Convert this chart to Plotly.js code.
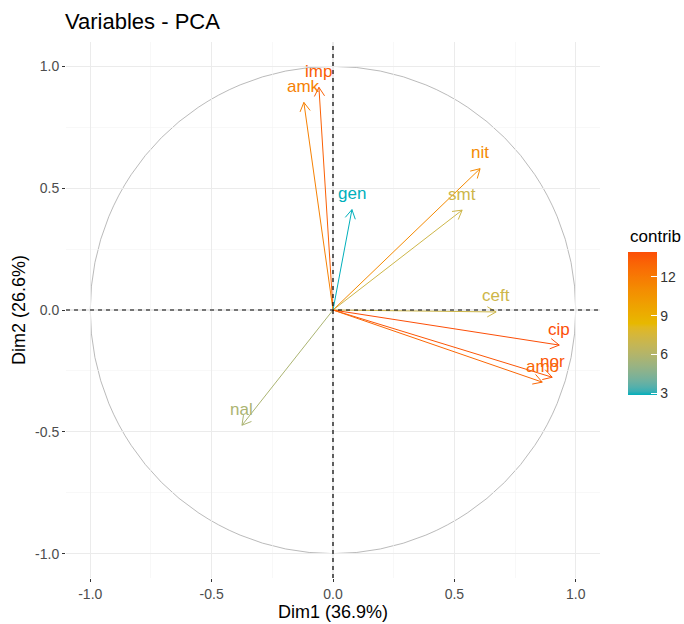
<!DOCTYPE html>
<html>
<head>
<meta charset="utf-8">
<script src="https://cdn.plot.ly/plotly-3.0.1.min.js"></script>
<style>html,body{margin:0;padding:0;background:#fff;}#chart{width:684px;height:624px;}</style>
</head>
<body>
<div id="chart"></div>
<script>
// ---- data ----
const variables = ['imp', 'amk', 'gen', 'nit', 'smt', 'ceft', 'cip', 'nor', 'amo', 'nal'];
const dim1 = [-0.058, -0.120, 0.078, 0.606, 0.532, 0.672, 0.932, 0.903, 0.862, -0.375];
const dim2 = [0.914, 0.852, 0.412, 0.580, 0.410, -0.008, -0.144, -0.276, -0.296, -0.473];
const contrib = [13.2, 11.6, 2.85, 11.1, 7.1, 7.1, 13.9, 13.6, 12.9, 5.7];
const gradientCols = ['#00AFBB', '#E7B800', '#FC4E07'];
const tickVals = [-1.0, -0.5, 0.0, 0.5, 1.0];
const tickLabels = ['-1.0', '-0.5', '0.0', '0.5', '1.0'];
const legendTicks = [3, 6, 9, 12];

// ---- Lab colour interpolation (like ggplot's gradientn) ----
function hexToRgb(h){return [1,3,5].map(i=>parseInt(h.substr(i,2),16));}
function lin(c){c/=255;return c<=0.04045?c/12.92:Math.pow((c+0.055)/1.055,2.4);}
function delin(c){const v=c<=0.0031308?12.92*c:1.055*Math.pow(c,1/2.4)-0.055;return Math.max(0,Math.min(255,Math.round(v*255)));}
const Xn=0.95047,Yn=1,Zn=1.08883;
function f(t){return t>0.008856?Math.cbrt(t):7.787*t+16/116;}
function finv(t){return t>0.206893?t*t*t:(t-16/116)/7.787;}
function rgbToLab(rgb){
  const r=lin(rgb[0]),g=lin(rgb[1]),b=lin(rgb[2]);
  const X=0.4124564*r+0.3575761*g+0.1804375*b;
  const Y=0.2126729*r+0.7151522*g+0.0721750*b;
  const Z=0.0193339*r+0.1191920*g+0.9503041*b;
  const fx=f(X/Xn),fy=f(Y/Yn),fz=f(Z/Zn);
  return [116*fy-16,500*(fx-fy),200*(fy-fz)];
}
function labToRgb(lab){
  const fy=(lab[0]+16)/116,fx=fy+lab[1]/500,fz=fy-lab[2]/200;
  const X=Xn*finv(fx),Y=Yn*finv(fy),Z=Zn*finv(fz);
  const r= 3.2404542*X-1.5371385*Y-0.4985314*Z;
  const g=-0.9692660*X+1.8760108*Y+0.0415560*Z;
  const b= 0.0556434*X-0.2040259*Y+1.0572252*Z;
  return [delin(r),delin(g),delin(b)];
}
const labs=gradientCols.map(c=>rgbToLab(hexToRgb(c)));
function colorAt(t){
  t=Math.max(0,Math.min(1,t));
  const n=labs.length-1,s=Math.min(n-1,Math.floor(t*n)),u=t*n-s;
  const a=labs[s],b=labs[s+1];
  const rgb=labToRgb([a[0]+(b[0]-a[0])*u,a[1]+(b[1]-a[1])*u,a[2]+(b[2]-a[2])*u]);
  return 'rgb('+rgb.join(',')+')';
}
const cmin=Math.min(...contrib),cmax=Math.max(...contrib);
const colorscale=[];
for(let i=0;i<=40;i++){colorscale.push([i/40,colorAt(i/40)]);}
const colOf=c=>colorAt((c-cmin)/(cmax-cmin));

// ---- traces ----
const headLen=0.042, headAng=30*Math.PI/180;
const traces=[];
variables.forEach((v,i)=>{
  const x=dim1[i],y=dim2[i],ang=Math.atan2(y,x);
  const lx=x-headLen*Math.cos(ang-headAng),ly=y-headLen*Math.sin(ang-headAng);
  const rx=x-headLen*Math.cos(ang+headAng),ry=y-headLen*Math.sin(ang+headAng);
  traces.push({
    type:'scatter',mode:'lines',
    x:[0,x,null,lx,x,rx],y:[0,y,null,ly,y,ry],
    line:{color:colOf(contrib[i]),width:1},
    hoverinfo:'skip',showlegend:false
  });
});
traces.push({
  type:'scatter',mode:'markers',x:dim1,y:dim2,
  marker:{color:contrib,colorscale:colorscale,cmin:cmin,cmax:cmax,opacity:0,size:1,
    showscale:true,
    colorbar:{
      thickness:29,thicknessmode:'pixels',len:143,lenmode:'pixels',
      xref:'container',x:628/684,xanchor:'left',xpad:0,
      yref:'container',y:1-377/624,yanchor:'middle',ypad:0,
      outlinewidth:0,
      tickmode:'array',tickvals:legendTicks,ticktext:legendTicks.map(String),
      ticks:'inside',ticklen:6,tickcolor:'#ffffff',tickwidth:1,
      tickfont:{size:14,color:'#333333',family:'Liberation Sans, Arial, sans-serif'},
      title:{text:''}
    }},
  hoverinfo:'skip',showlegend:false
});

const annotations=variables.map((v,i)=>({
  x:dim1[i],y:dim2[i],xref:'x',yref:'y',text:v,showarrow:false,
  yshift:16,xanchor:'center',yanchor:'middle',
  font:{size:17,color:colOf(contrib[i]),family:'Liberation Sans, Arial, sans-serif'}
}));
annotations.push({
  xref:'paper',yref:'paper',x:(628-66)/534,y:(578-236)/536,xanchor:'left',yanchor:'middle',
  text:'contrib',showarrow:false,
  font:{size:17,color:'#000000',family:'Liberation Sans, Arial, sans-serif'}
});

const axisCommon={
  range:[-1.1,1.1],tickmode:'array',tickvals:tickVals,ticktext:tickLabels,
  ticks:'outside',ticklen:3,tickwidth:1,tickcolor:'#333333',
  tickfont:{size:14,color:'#4D4D4D',family:'Liberation Sans, Arial, sans-serif'},
  showgrid:true,gridcolor:'#EBEBEB',gridwidth:1.1,
  minor:{tickmode:'array',tickvals:[-0.75,-0.25,0.25,0.75],showgrid:true,gridcolor:'#F3F3F3',gridwidth:0.6,ticks:''},
  zeroline:false,showline:false,fixedrange:true,automargin:false
};

const layout={
  width:684,height:624,
  margin:{l:66,r:84,t:42,b:46},
  paper_bgcolor:'#ffffff',plot_bgcolor:'#ffffff',
  font:{family:'Liberation Sans, Arial, sans-serif',color:'#000000'},
  title:{text:'Variables - PCA',x:65/684,xanchor:'left',xref:'container',y:1-21/624,yanchor:'middle',yref:'container',
    font:{size:22,color:'#000000'}},
  xaxis:Object.assign({},axisCommon,{title:{text:'Dim1 (36.9%)',standoff:4,font:{size:18,color:'#000000'}}}),
  yaxis:Object.assign({},axisCommon,{title:{text:'Dim2 (26.6%)',standoff:4,font:{size:18,color:'#000000'}}}),
  shapes:[
    {type:'circle',xref:'x',yref:'y',x0:-1,x1:1,y0:-1,y1:1,line:{color:'#A8A8A8',width:0.8},layer:'below'},
    {type:'line',xref:'paper',yref:'y',x0:0,x1:1,y0:0,y1:0,line:{color:'#000000',width:1.2,dash:'4px,4px'},layer:'above'},
    {type:'line',xref:'x',yref:'paper',x0:0,x1:0,y0:0,y1:1,line:{color:'#000000',width:1.2,dash:'4px,4px'},layer:'above'}
  ],
  annotations:annotations,
  hovermode:false,showlegend:false
};

Plotly.newPlot('chart',traces,layout,{displayModeBar:false,staticPlot:true});
</script>
</body>
</html>
